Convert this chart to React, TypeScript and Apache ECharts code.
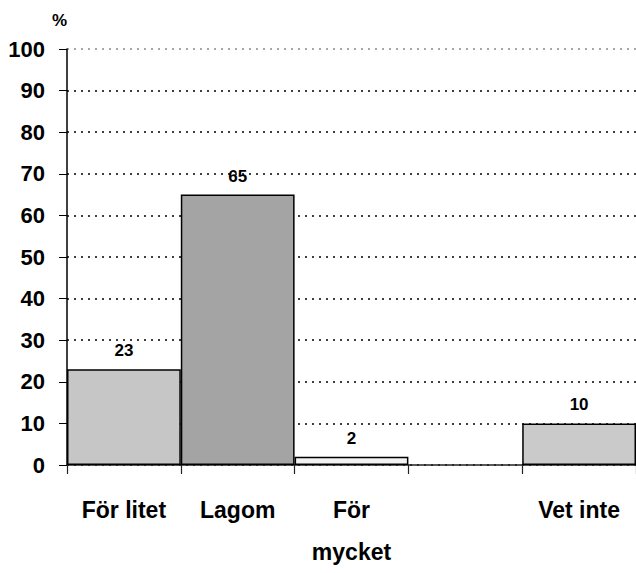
import React, { useEffect, useRef } from "react";
import * as echarts from "echarts";

const categories = ["För litet", "Lagom", "För\nmycket", "", "Vet inte"];
const values: (number | null)[] = [23, 65, 2, null, 10];
const barColors = ["#c6c6c6", "#a4a4a4", "#f2f2f2", "#ffffff", "#cacaca"];
const yTicks = [0, 10, 20, 30, 40, 50, 60, 70, 80, 90, 100];

export default function App() {
  const ref = useRef<HTMLDivElement>(null);
  useEffect(() => {
    if (!ref.current) return;
    const chart = echarts.init(ref.current, undefined, { renderer: "svg" });
    const font = "'Liberation Sans', Arial, sans-serif";
    const gridColors = yTicks.map((t) => (t === 100 ? "#8a8a8a" : "#000000"));
    chart.setOption({
      animation: false,
      backgroundColor: "#ffffff",
      grid: { left: 67, top: 49, height: 425, width: 575 },
      graphic: [
        {
          type: "text",
          left: 52,
          top: 12,
          style: { text: "%", font: `bold 17px ${font}`, fill: "#000" },
        },
      ],
      xAxis: {
        type: "category",
        data: categories,
        boundaryGap: true,
        axisLine: { lineStyle: { color: "#222", width: 1.5 } },
        axisTick: { show: true, length: 9, inside: false, lineStyle: { color: "#222", width: 1.2 } },
        axisLabel: {
          color: "#000",
          fontFamily: font,
          fontWeight: "bold",
          fontSize: 23,
          lineHeight: 42,
          margin: 24,
          interval: 0,
        },
      },
      yAxis: {
        type: "value",
        min: 0,
        max: 100,
        interval: 10,
        axisLine: { show: true, lineStyle: { color: "#000", width: 1.5 } },
        axisTick: { show: true, length: 8, lineStyle: { color: "#000" } },
        axisLabel: {
          color: "#000",
          fontFamily: font,
          fontWeight: "bold",
          fontSize: 22,
          margin: 22,
        },
        splitLine: {
          show: true,
          lineStyle: { color: gridColors, type: [2, 5], width: 1.5 },
        },
      },
      series: [
        {
          type: "bar",
          barCategoryGap: "0%",
          data: values.map((v, i) => ({
            value: v,
            itemStyle: { color: barColors[i] },
          })),
          itemStyle: { borderColor: "#000", borderWidth: 1.5 },
          label: {
            show: true,
            position: "top",
            distance: 10,
            color: "#000",
            fontFamily: font,
            fontWeight: "bold",
            fontSize: 17,
          },
        },
      ],
    });
    return () => chart.dispose();
  }, []);
  return (
    <div
      ref={ref}
      style={{ position: "fixed", left: 0, top: 0, width: 636, height: 573, background: "#fff" }}
    />
  );
}
